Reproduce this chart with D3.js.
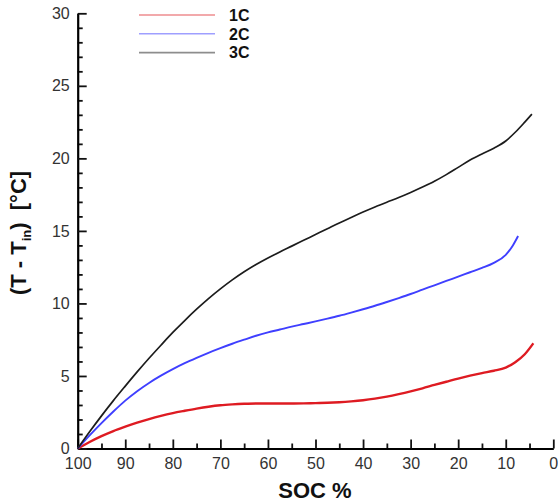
<!DOCTYPE html>
<html>
<head>
<meta charset="utf-8">
<script src="https://cdn.jsdelivr.net/npm/d3@7"></script>
<style>
  html, body { margin: 0; padding: 0; background: #fff; }
  svg { display: block; font-family: "Liberation Sans", Arial, sans-serif; }
</style>
</head>
<body>
<svg id="chart" width="558" height="504"></svg>
<script>
// Temperature rise above inlet temperature vs. state of charge, three discharge rates
const soc1C = [100, 97.5, 95, 92.5, 90, 87.5, 85, 82.5, 80, 77.5, 75, 72.5, 70, 67.5, 65, 62.5, 60, 57.5, 55, 52.5, 50, 47.5, 45, 42.5, 40, 37.5, 35, 32.5, 30, 27.5, 25, 22.5, 20, 17.5, 15, 12.5, 10, 8, 6, 4.2];
const rise1C = [0, 0.45, 0.85, 1.2, 1.5, 1.78, 2.03, 2.25, 2.44, 2.6, 2.75, 2.88, 2.98, 3.04, 3.08, 3.1, 3.1, 3.1, 3.1, 3.11, 3.13, 3.15, 3.19, 3.25, 3.33, 3.44, 3.58, 3.75, 3.94, 4.15, 4.38, 4.6, 4.82, 5.02, 5.2, 5.36, 5.58, 5.95, 6.5, 7.25];

const soc2C = [100, 97.5, 95, 92.5, 90, 87.5, 85, 82.5, 80, 77.5, 75, 72.5, 70, 67.5, 65, 62.5, 60, 57.5, 55, 52.5, 50, 47.5, 45, 42.5, 40, 37.5, 35, 32.5, 30, 27.5, 25, 22.5, 20, 17.5, 15, 12.5, 10, 8.5, 7.4];
const rise2C = [0, 0.9, 1.75, 2.55, 3.3, 3.95, 4.52, 5.02, 5.47, 5.88, 6.25, 6.6, 6.92, 7.22, 7.5, 7.77, 8.0, 8.2, 8.4, 8.58, 8.76, 8.95, 9.15, 9.37, 9.6, 9.84, 10.1, 10.37, 10.65, 10.95, 11.25, 11.55, 11.85, 12.15, 12.45, 12.8, 13.35, 14.0, 14.65];

const soc3C = [100, 97.5, 95, 92.5, 90, 87.5, 85, 82.5, 80, 77.5, 75, 72.5, 70, 67.5, 65, 62.5, 60, 57.5, 55, 52.5, 50, 47.5, 45, 42.5, 40, 37.5, 35, 32.5, 30, 27.5, 25, 22.5, 20, 17.5, 15, 12.5, 10, 8, 6, 4.5];
const rise3C = [0, 1.15, 2.25, 3.3, 4.3, 5.28, 6.22, 7.12, 8.0, 8.82, 9.6, 10.33, 11.0, 11.62, 12.18, 12.68, 13.13, 13.55, 13.95, 14.35, 14.75, 15.15, 15.55, 15.93, 16.3, 16.65, 16.98, 17.3, 17.65, 18.02, 18.42, 18.88, 19.38, 19.88, 20.3, 20.7, 21.2, 21.8, 22.5, 23.05];

const seriesNames = ["1C", "2C", "3C"];
const seriesColors = ["#de1b22", "#3f3fff", "#1c1c1c"];
const seriesWidths = [2.4, 1.9, 1.7];

const xTicks = [100, 90, 80, 70, 60, 50, 40, 30, 20, 10, 0];
const yTicks = [0, 5, 10, 15, 20, 25, 30];

const series = [
  { soc: soc1C, rise: rise1C },
  { soc: soc2C, rise: rise2C },
  { soc: soc3C, rise: rise3C }
];

const svg = d3.select("#chart");
const plotLeft = 77.7, plotRight = 553.3, plotTop = 13.3, plotBottom = 448.5;

const x = d3.scaleLinear().domain([100, 0]).range([plotLeft, plotRight]);
const y = d3.scaleLinear().domain([0, 30]).range([plotBottom, plotTop]);

// minor ticks
const minorX = d3.range(0, 101, 5).filter(v => v % 10 !== 0);
const minorY = d3.range(0, 31, 1).filter(v => v % 5 !== 0);

const gx = svg.append("g").attr("transform", `translate(0,${plotBottom})`);
gx.append("g").call(d3.axisBottom(x).tickValues(minorX).tickSize(-5).tickFormat(""))
  .call(g => g.select(".domain").remove());
gx.append("g").call(d3.axisBottom(x).tickValues(xTicks).tickSize(-9).tickPadding(9).tickSizeOuter(0))
  .call(g => g.select(".domain").attr("stroke-width", 2.2));

const gy = svg.append("g").attr("transform", `translate(${plotLeft},0)`);
gy.append("g").call(d3.axisLeft(y).tickValues(minorY).tickSize(-5).tickFormat(""))
  .call(g => g.select(".domain").remove());
gy.append("g").call(d3.axisLeft(y).tickValues(yTicks).tickSize(-9).tickPadding(8).tickSizeOuter(0))
  .call(g => g.select(".domain").attr("stroke-width", 2.2));

svg.selectAll(".tick line").attr("stroke", "#111").attr("stroke-width", 1.8);
svg.selectAll(".tick text")
  .attr("font-family", "Liberation Sans, Arial, sans-serif")
  .attr("font-size", 16)
  .attr("fill", "#333");

// curves
const line = d3.line()
  .x(d => x(d[0]))
  .y(d => y(d[1]))
  .curve(d3.curveMonotoneX);

series.forEach((s, i) => {
  const pts = s.soc.map((v, j) => [v, s.rise[j]]);
  svg.append("path")
    .datum(pts)
    .attr("fill", "none")
    .attr("stroke", seriesColors[i])
    .attr("stroke-width", seriesWidths[i])
    .attr("stroke-linejoin", "round")
    .attr("d", line);
});

// legend
const legend = svg.append("g");
seriesNames.forEach((name, i) => {
  const ly = 15 + i * 18.8;
  legend.append("line")
    .attr("x1", 139).attr("x2", 215)
    .attr("y1", ly).attr("y2", ly)
    .attr("stroke", seriesColors[i])
    .attr("stroke-opacity", 0.5)
    .attr("stroke-width", 1.6);
  legend.append("text")
    .attr("x", 229).attr("y", ly + 5.8)
    .attr("font-size", 16)
    .attr("font-weight", "bold")
    .attr("fill", "#111")
    .text(name);
});

// axis titles
svg.append("text")
  .attr("x", 315).attr("y", 498)
  .attr("text-anchor", "middle")
  .attr("font-size", 22)
  .attr("font-weight", "bold")
  .attr("fill", "#111")
  .text("SOC %");

const yTitle = svg.append("text")
  .attr("transform", "translate(26,233) rotate(-90)")
  .attr("text-anchor", "middle")
  .attr("font-size", 22)
  .attr("font-weight", "bold")
  .attr("fill", "#111")
  .attr("xml:space", "preserve");
yTitle.append("tspan").text("(T - T");
yTitle.append("tspan").attr("font-size", 13).attr("dy", 5).text("in");
yTitle.append("tspan").attr("dy", -5).text(")  [°C]");
</script>
</body>
</html>
